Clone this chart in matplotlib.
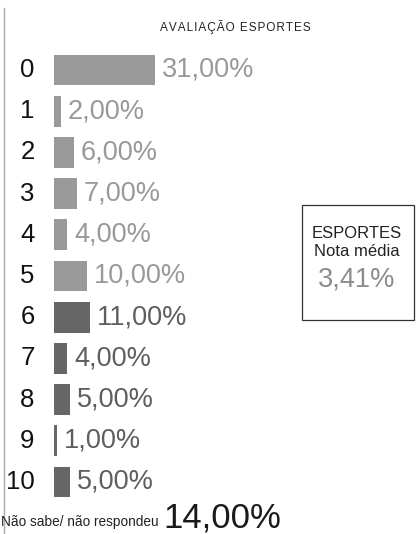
import matplotlib
matplotlib.use("Agg")
import matplotlib.pyplot as plt
from matplotlib.patches import Rectangle

plt.rcParams['font.family'] = ['Liberation Sans', 'DejaVu Sans']

categories = ["0", "1", "2", "3", "4", "5", "6", "7", "8", "9", "10"]
values = [31, 2, 6, 7, 4, 10, 11, 4, 5, 1, 5]
value_labels = ["31,00%", "2,00%", "6,00%", "7,00%", "4,00%", "10,00%",
                "11,00%", "4,00%", "5,00%", "1,00%", "5,00%"]
title = "AVALIAÇÃO ESPORTES"
nsnr_label = "Não sabe/ não respondeu"
nsnr_value = "14,00%"
box_lines = ["ESPORTES", "Nota média"]
box_value = "3,41%"

W, H = 417, 534
fig = plt.figure(figsize=(W / 100, H / 100), dpi=100)
fig.patch.set_facecolor("white")

light = "#9a9a9a"
dark = "#666666"
light_txt = "#999999"
dark_txt = "#5e5e5e"

# axes: left at 54px; 3.26 px per percent
px_per = 3.26
ax_left = 54
ax_w = W - ax_left
top_px = 70 - 41.2 * 0.5
bot_px = 482 + 41.2 * 0.5
ax = fig.add_axes([ax_left / W, 1 - bot_px / H, ax_w / W, (bot_px - top_px) / H])
ax.set_xlim(0, ax_w / px_per)
n = len(categories)
ax.set_ylim(n - 0.5, -0.5)
ax.axis("off")

colors = [light if i < 6 else dark for i in range(n)]
tcolors = [light_txt if i < 6 else dark_txt for i in range(n)]
ypos = list(range(n))
ax.barh(ypos, values, height=0.75, color=colors, edgecolor="none")

for i in range(n):
    ax.annotate(value_labels[i], (values[i], ypos[i]), xytext=(5, 0),
                textcoords="offset points", ha="left", va="center",
                fontsize=19.5, color=tcolors[i])
    ax.annotate(categories[i], (0, ypos[i]), xytext=(-14, 0),
                textcoords="offset points", ha="right", va="center",
                fontsize=18.5, color="#111111")

# title (letter-spaced)
spaced_title = "\u200a".join(title)
fig.text(235 / W, 1 - 27 / H, spaced_title, ha="center", va="center",
         fontsize=8.5, color="#222222")

# left vertical rule
fig.add_artist(plt.Line2D([3.5 / W, 3.5 / W], [0, 1 - 8 / H],
                          color="#aaaaaa", lw=1))

# box
fig.add_artist(Rectangle((302 / W, 1 - 320 / H), 112 / W, 115 / H,
                         transform=fig.transFigure, fill=False,
                         edgecolor="#333333", lw=0.9))
fig.text(357 / W, 1 - 233 / H, box_lines[0], ha="center", va="center",
         fontsize=12, color="#222222")
fig.text(357 / W, 1 - 252 / H, box_lines[1], ha="center", va="center",
         fontsize=12, color="#222222")
fig.text(357 / W, 1 - 279 / H, box_value, ha="center", va="center",
         fontsize=19.5, color="#8c8c8c")

# bottom note
fig.text(1 / W, 1 - 526 / H, nsnr_label, ha="left", va="baseline",
         fontsize=9.8, color="#222222")
fig.text(163 / W, 1 - 527 / H, nsnr_value, ha="left", va="baseline",
         fontsize=25, color="#1a1a1a")

fig.savefig("out.png", dpi=100, facecolor="white")
